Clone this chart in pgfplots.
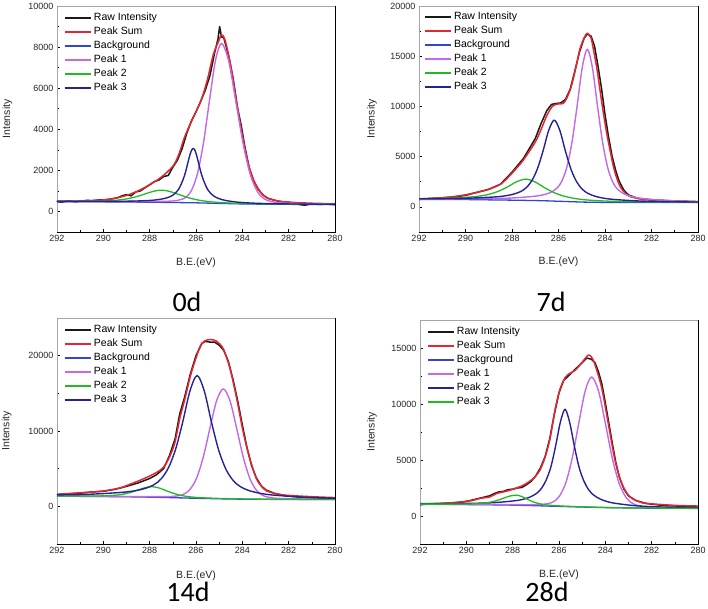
\documentclass[border=0pt]{standalone}
\usepackage{pgfplots}
\pgfplotsset{compat=1.18}
\usepackage{fontspec}
\setmainfont{Liberation Sans}
\newfontfamily\calibri{Carlito}
\definecolor{cRaw}{RGB}{25,25,25}
\definecolor{cSum}{RGB}{228,38,50}
\definecolor{cBg}{RGB}{50,70,205}
\definecolor{cP1}{RGB}{195,105,230}
\definecolor{cGr}{RGB}{35,185,35}
\definecolor{cNv}{RGB}{35,35,150}
\pgfplotsset{
  panel/.style={
    scale only axis, width=278pt, height=226pt,
    x dir=reverse, xmin=280, xmax=292,
    xtick={280,282,...,292}, minor xtick={281,283,...,291},
    tick pos=left, tick align=inside,
    major tick length=3pt, minor tick length=2pt,
    every tick/.style={black, line width=0.6pt},
    axis line style={black!35, line width=0.8pt},
    clip mode=individual,
    scaled ticks=false,
    /pgf/number format/1000 sep={},
    /pgf/number format/assume math mode=true,
    tick label style={font=\fontsize{9}{10}\selectfont, text=black!85},
    xlabel={B.E.(eV)}, ylabel={Intensity},
    label style={font=\fontsize{10.5}{12}\selectfont, text=black!85},
    legend cell align=left,
    legend image code/.code={\draw[##1] (0pt,0pt) -- (26pt,0pt);},
    legend style={anchor=north west, draw=none, fill=none, inner sep=0pt, outer sep=0pt,
      font=\fontsize{10.5}{12}\selectfont, row sep=4.5pt,
      nodes={inner sep=0pt, text height=7.5pt, text depth=2pt},
      /tikz/every odd column/.append style={column sep=2.5pt}},
    every axis plot/.append style={line join=round, mark=none},
  },
  raw/.style={cRaw, line width=1.5pt},
  sum/.style={cSum, line width=1.5pt, smooth},
  bg/.style={cBg, line width=1.3pt},
  pk1/.style={cP1, line width=1.4pt, smooth},
  gr/.style={cGr, line width=1.3pt, smooth},
  nv/.style={cNv, line width=1.4pt, smooth},
}
\newcommand{\blackframe}{\draw[black, line width=0.9pt, line cap=rect] (rel axis cs:1,1) -- (rel axis cs:1,0) -- (rel axis cs:0,0);}
\begin{document}
\begin{tikzpicture}
\useasboundingbox (0pt,0pt) rectangle (708pt,608pt);
% ---------------- 0d ----------------
\begin{axis}[panel, at={(57pt,376pt)}, anchor=south west,
  ymin=-1000, ymax=10000, ytick={0,2000,...,10000}, minor ytick={1000,3000,...,9000},
  ylabel style={at={(axis description cs:-0.178,0.5)}, anchor=center},
  xlabel style={at={(axis description cs:0.5,-0.137)}, anchor=center},
  legend style={at={(axis description cs:0.025,0.968)}}]
\addplot[raw] coordinates {(292,480) (291.8,450) (291.5,520) (291.2,470) (291,500) (290.7,540) (290.5,520) (290.2,560) (290,560) (289.7,600) (289.5,640) (289.3,700) (289.2,760) (289,820) (288.8,760) (288.6,950) (288.4,1000) (288.2,1150) (288,1300) (287.8,1450) (287.6,1530) (287.4,1700) (287.2,1750) (287,2150) (286.8,2500) (286.6,3050) (286.4,3800) (286.2,4400) (286,4850) (285.8,5350) (285.6,5900) (285.4,6600) (285.2,7700) (285.05,8400) (284.98,9000) (284.9,8500) (284.8,8450) (284.6,7600) (284.4,6500) (284.2,5000) (284.05,4200) (283.9,3200) (283.7,2100) (283.5,1450) (283.3,1050) (283.1,800) (282.9,640) (282.6,540) (282.3,470) (282,450) (281.6,350) (281.3,300) (281,380) (280.7,340) (280.4,360) (280,330)};
\addlegendentry{Raw Intensity}
\addplot[sum] coordinates {(292,500) (291,510) (290,560) (289.5,640) (289,780) (288.5,1000) (288,1300) (287.5,1670) (287,2200) (286.75,2750) (286.5,3600) (286.25,4250) (286,4850) (285.75,5500) (285.5,6450) (285.25,7650) (285,8350) (284.9,8600) (284.75,8350) (284.5,7100) (284.25,5300) (284,3700) (283.75,2350) (283.5,1500) (283.25,1000) (283,700) (282.5,520) (282,455) (281,400) (280,375)};
\addlegendentry{Peak Sum}
\addplot[bg] coordinates {(292,480) (290,468) (288,450) (287,436) (286,420) (285,392) (284,366) (283,352) (282,346) (280,340)};
\addlegendentry{Background}
\addplot[pk1] coordinates {(292,488) (290.1,481) (288.8,479) (287.5,490) (286.85,526) (286.46,672) (286.2,1017) (285.94,1827) (285.68,3316) (285.42,5382) (285.16,7343) (284.9,8178) (284.59,7326) (284.28,5348) (283.96,3268) (283.65,1768) (283.34,950) (283.03,597) (282.56,440) (281.78,391) (280.22,353) (280,352)};
\addlegendentry{Peak 1}
\addplot[gr] coordinates {(292,494) (291,497) (290,512) (289.5,540) (289,609) (288.5,744) (288,927) (287.75,1002) (287.5,1034) (287.25,1005) (287,927) (286.75,828) (286.5,730) (286.25,645) (286,577) (285.75,525) (285.5,487) (285.25,459) (285,437) (284.75,422) (284.5,408) (284,388) (283.5,376) (283,366) (282,356) (281,350) (280,345)};
\addlegendentry{Peak 2}
\addplot[nv] coordinates {(292,489) (291,488) (290,489) (289.5,491) (289,498) (288.5,511) (288,536) (287.75,560) (287.5,600) (287.25,664) (287,792) (286.75,1079) (286.5,1733) (286.25,2801) (286.12,3072) (286,2834) (285.75,1758) (285.5,1071) (285.25,763) (285,620) (284.75,542) (284.5,493) (284.25,459) (284,434) (283.75,417) (283.5,403) (283,384) (282.5,372) (282,365) (281,355) (280,348)};
\addlegendentry{Peak 3}
\blackframe
\end{axis}
% ---------------- 7d ----------------
\begin{axis}[panel, at={(419pt,376pt)}, anchor=south west, width=279pt,
  ymin=-2500, ymax=20000, ytick={0,5000,...,20000}, minor ytick={2500,7500,...,17500},
  ylabel style={at={(axis description cs:-0.169,0.5)}, anchor=center},
  xlabel style={at={(axis description cs:0.5,-0.131)}, anchor=center},
  legend style={at={(axis description cs:0.018,0.972)}}]
\addplot[raw] coordinates {(292,750) (291.5,820) (291,900) (290.5,980) (290,1150) (289.5,1450) (289,1750) (288.5,2250) (288,3450) (287.5,4850) (287,6800) (286.75,8300) (286.5,9600) (286.3,10200) (286.1,10300) (285.9,10350) (285.7,10700) (285.5,11700) (285.3,13500) (285.1,15400) (284.9,16800) (284.76,17200) (284.6,17000) (284.45,16000) (284.3,14000) (284.15,11800) (284,9200) (283.85,7000) (283.7,5100) (283.55,3700) (283.4,2600) (283.2,1700) (283,1200) (282.6,850) (282,700) (281,580) (280,500)};
\addlegendentry{Raw Intensity}
\addplot[sum] coordinates {(292,780) (291.5,850) (291,920) (290.5,1030) (290,1200) (289.5,1450) (289,1750) (288.5,2250) (288.25,2750) (288,3350) (287.75,4000) (287.5,4700) (287,6450) (286.75,7700) (286.5,9100) (286.25,10050) (286,10250) (285.8,10300) (285.65,10800) (285.45,12000) (285.25,13900) (285.08,15700) (284.9,16800) (284.76,17300) (284.6,16800) (284.5,15700) (284.35,13800) (284.22,11700) (284.08,9500) (283.93,7370) (283.78,5600) (283.64,4030) (283.5,2900) (283.35,2030) (283.15,1400) (282.92,1030) (282.5,800) (282.06,700) (281,600) (280,530)};
\addlegendentry{Peak Sum}
\addplot[bg] coordinates {(292,750) (290,730) (289,700) (288,670) (287,630) (286.5,600) (286,560) (285.5,520) (285,480) (284.5,460) (284,445) (283,440) (280,430)};
\addlegendentry{Background}
\addplot[pk1] coordinates {(292,796) (291.36,797) (289.16,823) (288.06,878) (286.96,1077) (286.41,1371) (286.08,1835) (285.86,2549) (285.64,3962) (285.42,6443) (285.2,10031) (284.98,13860) (284.76,15700) (284.54,13842) (284.32,9989) (284.1,6376) (283.88,3875) (283.66,2443) (283.44,1710) (283.11,1217) (282.56,887) (281.46,641) (280.36,548) (280,530)};
\addlegendentry{Peak 1}
\addplot[gr] coordinates {(292,826) (291.4,844) (290.4,903) (289.8,983) (289.4,1078) (289,1248) (288.6,1540) (288.2,1983) (287.8,2502) (287.4,2766) (287,2471) (286.6,1913) (286.2,1428) (285.8,1092) (285.4,878) (285,739) (284.4,628) (283.4,541) (281.4,481) (280,461)};
\addlegendentry{Peak 2}
\addplot[nv] coordinates {(292,810) (290.98,827) (289.78,876) (288.58,1019) (287.98,1239) (287.62,1536) (287.38,1927) (287.14,2634) (286.9,3833) (286.66,5610) (286.42,7631) (286.18,8644) (285.94,7591) (285.7,5536) (285.46,3726) (285.22,2496) (284.98,1762) (284.74,1351) (284.38,1027) (283.78,776) (282.58,592) (281.38,522) (280,482)};
\addlegendentry{Peak 3}
\blackframe
\end{axis}
% ---------------- 14d ----------------
\begin{axis}[panel, at={(57pt,64pt)}, anchor=south west,
  ymin=-5000, ymax=25000, ytick={0,10000,20000}, minor ytick={5000,15000},
  ylabel style={at={(axis description cs:-0.181,0.5)}, anchor=center},
  xlabel style={at={(axis description cs:0.5,-0.142)}, anchor=center},
  legend style={at={(axis description cs:0.025,0.968)}}]
\addplot[raw] coordinates {(292,1550) (291.5,1650) (291,1750) (290.5,1900) (290,2000) (289.5,2250) (289,2650) (288.5,3100) (288,3700) (287.7,4200) (287.4,5000) (287.15,6700) (286.9,9000) (286.7,12300) (286.5,14400) (286.25,17500) (286,20000) (285.75,21600) (285.6,21900) (285.4,21800) (285.2,21800) (285,21400) (284.8,20700) (284.6,19200) (284.4,16800) (284.2,14000) (284,10800) (283.8,7800) (283.6,5400) (283.4,3800) (283.2,2800) (283,2200) (282.6,1700) (282.2,1450) (281.8,1300) (281.4,1200) (281,1150) (280.6,1100) (280.3,1000) (280,1000)};
\addlegendentry{Raw Intensity}
\addplot[sum] coordinates {(292,1600) (291,1800) (290,2040) (289.28,2450) (288.85,2930) (288.42,3450) (287.99,4040) (287.7,4500) (287.41,5160) (287.15,6500) (286.91,8490) (286.69,11800) (286.5,14000) (286.25,17200) (286,19700) (285.76,21600) (285.5,22100) (285.25,22100) (285.1,21900) (284.82,20900) (284.53,18260) (284.24,14260) (283.96,9820) (283.67,6270) (283.38,3600) (283.1,2400) (282.95,2040) (282.5,1650) (282.09,1470) (281,1280) (280,1160)};
\addlegendentry{Peak Sum}
\addplot[bg] coordinates {(292,1350) (290,1300) (289,1270) (288,1220) (287,1150) (286,1070) (285,1000) (284,950) (283,930) (280,900)};
\addlegendentry{Background}
\addplot[pk1] coordinates {(292,1360) (289.17,1314) (287.72,1286) (286.995,1322) (286.56,1567) (286.27,2203) (285.98,3707) (285.69,6489) (285.4,10354) (285.11,14027) (284.82,15591) (284.53,13995) (284.24,10288) (283.95,6389) (283.66,3582) (283.37,2055) (283.08,1390) (282.645,1099) (281.92,1005) (280.47,944) (280,932)};
\addlegendentry{Peak 1}
\addplot[gr] coordinates {(292,1376) (291.1,1368) (290.3,1378) (289.82,1412) (289.5,1472) (289.18,1594) (288.86,1808) (288.54,2123) (288.22,2461) (287.9,2615) (287.58,2422) (287.26,2044) (286.94,1691) (286.62,1432) (286.3,1278) (285.98,1186) (285.5,1106) (284.7,1026) (283.1,951) (281.5,926) (280,907)};
\addlegendentry{Peak 2}
\addplot[nv] coordinates {(292,1521) (290.6,1602) (289.05,1895) (288.28,2305) (287.81,2881) (287.5,3661) (287.19,5108) (286.88,7582) (286.57,11236) (286.26,15326) (285.95,17367) (285.64,15283) (285.33,11149) (285.02,7448) (284.71,4931) (284.4,3446) (284.09,2626) (283.63,2014) (282.85,1551) (281.3,1200) (280,1079)};
\addlegendentry{Peak 3}
\blackframe
\end{axis}
% ---------------- 28d ----------------
\begin{axis}[panel, at={(420pt,64pt)}, anchor=south west, height=224pt,
  ymin=-2500, ymax=17500, ytick={0,5000,10000,15000}, minor ytick={2500,7500,12500},
  ylabel style={at={(axis description cs:-0.173,0.5)}, anchor=center},
  xlabel style={at={(axis description cs:0.5,-0.138)}, anchor=center},
  legend style={at={(axis description cs:0.025,0.968)}}]
\addplot[raw] coordinates {(292,1000) (291.6,1080) (291.2,1050) (290.8,1150) (290.5,1200) (290.2,1250) (289.9,1350) (289.6,1500) (289.3,1650) (289,1800) (288.8,2000) (288.6,2150) (288.4,2200) (288.2,2350) (288,2400) (287.8,2500) (287.6,2550) (287.4,2800) (287.2,3100) (287,3600) (286.8,4300) (286.6,5300) (286.4,6900) (286.2,9100) (286,11000) (285.8,12100) (285.6,12500) (285.4,12900) (285.2,13300) (285,13700) (284.8,14100) (284.7,14050) (284.6,14000) (284.45,13700) (284.3,12900) (284.15,11800) (284,10100) (283.85,8300) (283.7,6500) (283.55,4800) (283.4,3500) (283.2,2400) (283,1800) (282.7,1400) (282.3,1150) (282,1050) (281.5,950) (281,900) (280.5,850) (280,820)};
\addlegendentry{Raw Intensity}
\addplot[sum] coordinates {(292,1060) (291.5,1100) (291,1150) (290.53,1180) (290,1300) (289.67,1420) (289.41,1570) (288.98,1710) (288.69,2010) (288.4,2150) (288.12,2300) (287.54,2750) (287.11,3340) (286.96,3700) (286.82,4100) (286.6,5260) (286.39,6900) (286.17,9500) (285.96,11300) (285.74,12350) (285.6,12650) (285.31,13000) (285.02,13680) (284.74,14360) (284.6,14200) (284.45,13530) (284.16,11460) (283.87,8220) (283.58,4960) (283.29,2900) (282.94,1710) (282.5,1250) (282.22,1120) (281,950) (280,890)};
\addlegendentry{Peak Sum}
\addplot[bg] coordinates {(292,1050) (290,1020) (289,1000) (288,970) (287,920) (286,860) (285,800) (284,750) (283,720) (282,700) (280,680)};
\addlegendentry{Background}
\addplot[pk1] coordinates {(292,1058) (288.79,1027) (287.39,1009) (286.69,1037) (286.27,1241) (285.99,1747) (285.71,2945) (285.43,5161) (285.15,8237) (284.87,11164) (284.59,12410) (284.29,11135) (283.99,8179) (283.69,5076) (283.39,2834) (283.09,1610) (282.79,1081) (282.34,844) (281.59,765) (280.09,712) (280,697)};
\addlegendentry{Peak 1}
\addplot[nv] coordinates {(292,1099) (289.82,1131) (288.8,1196) (287.78,1394) (287.27,1675) (286.96,2036) (286.76,2459) (286.56,3187) (286.35,4388) (286.15,6212) (285.94,8390) (285.74,9534) (285.54,8366) (285.33,6163) (285.13,4317) (284.92,3093) (284.72,2345) (284.52,1894) (284.21,1502) (283.7,1176) (282.68,914) (281.66,811) (280,738)};
\addlegendentry{Peak 2}
\addplot[gr] coordinates {(292,1064) (290.85,1059) (290.1,1068) (289.65,1088) (289.35,1125) (289.05,1204) (288.75,1343) (288.45,1547) (288.15,1766) (287.85,1863) (287.61,1742) (287.37,1502) (287.13,1277) (286.89,1118) (286.65,1021) (286.41,965) (286.05,909) (285.45,853) (284.25,775) (283.05,728) (280,683)};
\addlegendentry{Peak 3}
\blackframe
\end{axis}
% ---------------- panel titles ----------------
\node[font=\calibri\fontsize{28}{28}\selectfont, anchor=base, inner sep=0pt] at (187pt,297pt) {0d};
\node[font=\calibri\fontsize{28}{28}\selectfont, anchor=base, inner sep=0pt] at (551pt,297pt) {7d};
\node[font=\calibri\fontsize{28}{28}\selectfont, anchor=base, inner sep=0pt] at (188pt,7pt) {14d};
\node[font=\calibri\fontsize{28}{28}\selectfont, anchor=base, inner sep=0pt] at (547pt,7pt) {28d};
\end{tikzpicture}
\end{document}
